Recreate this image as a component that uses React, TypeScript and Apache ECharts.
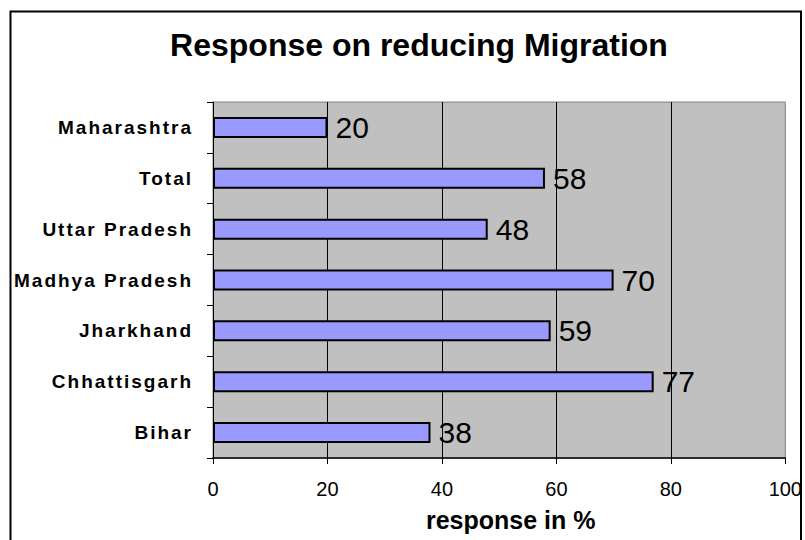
import React, { useEffect, useRef } from "react";
import * as echarts from "echarts";

// Survey regions, listed bottom-to-top as the category axis draws them
const regions = [
  "Bihar",
  "Chhattisgarh",
  "Jharkhand",
  "Madhya Pradesh",
  "Uttar Pradesh",
  "Total",
  "Maharashtra",
];

// Share of respondents (%) per region
const responses = [38, 77, 59, 70, 48, 58, 20];

const valueTicks = { min: 0, max: 100, interval: 20 };

const titleText = "Response on reducing Migration";
const axisTitle = "response in %";

// Category labels use their own family name so the stylesheet below can space them out
const CATEGORY_FONT = "Arial";
const BASE_FONT = "Liberation Sans";

export default function App() {
  const ref = useRef<HTMLDivElement>(null);

  useEffect(() => {
    if (!ref.current) return;
    const chart = echarts.init(ref.current, null, { renderer: "svg" });

    chart.setOption({
      animation: false,
      backgroundColor: "#ffffff",
      title: {
        text: titleText,
        left: 419,
        top: 29,
        padding: 0,
        textAlign: "center",
        textStyle: {
          fontFamily: BASE_FONT,
          fontWeight: "bold",
          fontSize: 32,
          color: "#000",
        },
      },
      grid: {
        left: 213,
        right: 17.5,
        top: 102,
        bottom: 82,
        show: true,
        backgroundColor: "#C0C0C0",
        borderColor: "#808080",
        borderWidth: 1,
      },
      xAxis: {
        type: "value",
        min: valueTicks.min,
        max: valueTicks.max,
        interval: valueTicks.interval,
        name: axisTitle,
        nameLocation: "middle",
        nameGap: 49,
        nameTextStyle: {
          fontFamily: BASE_FONT,
          fontWeight: "bold",
          fontSize: 25,
          color: "#000",
          padding: [0, 0, 0, 23],
        },
        axisLine: { show: true, lineStyle: { color: "#000", width: 1.5 } },
        axisTick: { show: true, length: 6, lineStyle: { color: "#000" } },
        axisLabel: {
          margin: 21,
          fontFamily: BASE_FONT,
          fontSize: 20,
          color: "#000",
        },
        splitLine: {
          show: true,
          showMaxLine: false,
          showMinLine: false,
          lineStyle: { color: "#000", width: 1 },
        },
      },
      yAxis: {
        type: "category",
        data: regions,
        axisLine: { show: true, lineStyle: { color: "#000", width: 1 } },
        axisTick: { show: true, length: 6, lineStyle: { color: "#000" } },
        axisLabel: {
          margin: 20,
          fontFamily: CATEGORY_FONT,
          fontWeight: "bold",
          fontSize: 19,
          color: "#000",
        },
        splitLine: { show: false },
      },
      series: [
        {
          type: "bar",
          data: responses,
          barWidth: 21,
          itemStyle: {
            color: "#9999FF",
            borderColor: "#000",
            borderWidth: 2,
          },
          label: {
            show: true,
            position: "right",
            distance: 8,
            fontFamily: BASE_FONT,
            fontSize: 30,
            color: "#000",
          },
        },
      ],
      graphic: [
        {
          type: "rect",
          z: 100,
          silent: true,
          shape: { x: 10.5, y: 11.5, width: 790.5, height: 600 },
          style: { fill: "none", stroke: "#000", lineWidth: 2 },
        },
      ],
    });

    return () => chart.dispose();
  }, []);

  return (
    <>
      <style>{`text[style*="Arial"] { letter-spacing: 2px; }`}</style>
      <div
        ref={ref}
        style={{
          position: "fixed",
          left: 0,
          top: 0,
          width: 805,
          height: 540,
          background: "#fff",
        }}
      />
    </>
  );
}
